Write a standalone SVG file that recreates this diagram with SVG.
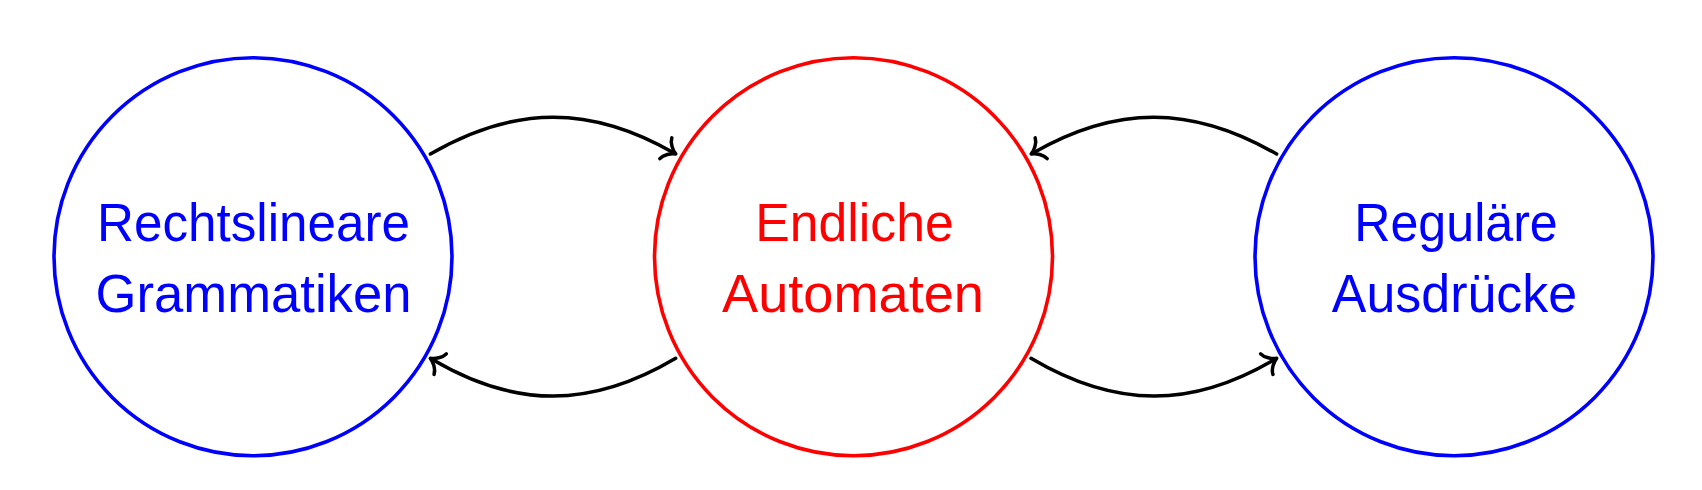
<svg xmlns="http://www.w3.org/2000/svg" width="1702" height="490" viewBox="0 0 1702 490">
<style>
.node{fill:none;stroke-width:3.6}
.blue{stroke:#0000ff}
.red{stroke:#ff0000}
.lbl{font-family:"Liberation Sans",Arial,sans-serif;font-size:54px;text-anchor:middle}
.lb{fill:#0000ff}
.lr{fill:#ff0000}
.edge{fill:none;stroke:#000;stroke-width:3.5;stroke-linecap:round;marker-end:url(#to)}
</style>
<defs>
<marker id="to" markerUnits="userSpaceOnUse" viewBox="-15 -15 30 30" markerWidth="30" markerHeight="30" refX="0" refY="0" orient="auto" overflow="visible">
<path d="M-10,-12 C-9,-7 -3,-1.5 1.5,0 C-3,1.5 -9,7 -10,12" fill="none" stroke="#000" stroke-width="3.5" stroke-linecap="round" stroke-linejoin="round"/>
</marker>
</defs>
<rect width="1702" height="490" fill="#fff"/>
<g id="node-grammatiken">
<circle class="node blue" cx="253" cy="256.7" r="199"/>
<text class="lbl lb" x="253.5" y="241" textLength="313" lengthAdjust="spacingAndGlyphs">Rechtslineare</text>
<text class="lbl lb" x="253.5" y="312" textLength="316" lengthAdjust="spacingAndGlyphs">Grammatiken</text>
</g>
<g id="node-automaten">
<circle class="node red" cx="853.5" cy="256.7" r="199"/>
<text class="lbl lr" x="854.5" y="241" textLength="198.5" lengthAdjust="spacingAndGlyphs">Endliche</text>
<text class="lbl lr" x="853" y="312" textLength="262" lengthAdjust="spacingAndGlyphs">Automaten</text>
</g>
<g id="node-ausdruecke">
<circle class="node blue" cx="1454" cy="256.7" r="199"/>
<text class="lbl lb" x="1456" y="241" textLength="203.5" lengthAdjust="spacingAndGlyphs">Reguläre</text>
<text class="lbl lb" x="1454.5" y="312" textLength="245.3" lengthAdjust="spacingAndGlyphs">Ausdrücke</text>
</g>
<g id="connectors">
<path class="edge" d="M430.4,154 C515,105 591,105 674.5,153.2"/>
<path class="edge" d="M675.7,358.3 C591,408.6 515,408.6 431.6,359"/>
<path class="edge" d="M1276.6,154 C1192,105 1116,105 1032.5,153.2"/>
<path class="edge" d="M1031,358.3 C1116,408.6 1192,408.6 1275.4,359"/>
</g>
</svg>
